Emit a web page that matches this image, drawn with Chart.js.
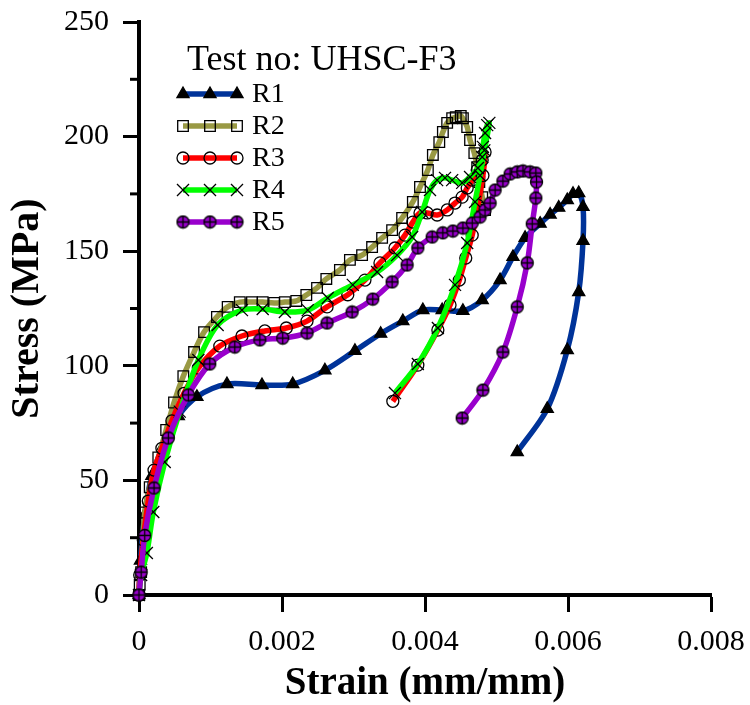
<!DOCTYPE html>
<html>
<head>
<meta charset="utf-8">
<script src="https://cdn.jsdelivr.net/npm/chart.js@4.4.1/dist/chart.umd.min.js"></script>
<style>
    html, body { margin: 0; padding: 0; background: #fff; }
</style>
</head>
<body>
<canvas id="myChart" width="750" height="705"></canvas>
<script>
// values (strain in mm/mm, stress in MPa)
const seriesNames = ['R1', 'R2', 'R3', 'R4', 'R5'];
const legendTitle = 'Test no: UHSC-F3';
const strainTicks = [0, 0.002, 0.004, 0.006, 0.008];
const stressTicks = [0, 50, 100, 150, 200, 250];

const r1Strain = [0, 0.00002, 0.00008, 0.00018, 0.00034, 0.00055, 0.00081, 0.00123, 0.00172, 0.00215, 0.0026, 0.00302, 0.00338, 0.00369, 0.00397, 0.00424, 0.00453, 0.0048, 0.00505, 0.00523, 0.0054, 0.00561, 0.00575, 0.00587, 0.00599, 0.00607, 0.00615, 0.00621, 0.00621, 0.00615, 0.00599, 0.00571, 0.00529];
const r1Stress = [0, 15, 35, 52, 65, 78, 86.5, 92, 91.6, 92, 98, 106.5, 114, 119.5, 124.3, 124.3, 124, 128.7, 137.4, 147.5, 155.8, 162, 166, 169, 172.3, 175, 175.4, 169.3, 154.5, 132.2, 106.9, 81.2, 62.4];

const r2Strain = [0, 0.00001, 0.00003, 0.00008, 0.00015, 0.00027, 0.00038, 0.00049, 0.00062, 0.00077, 0.00091, 0.00109, 0.00124, 0.00141, 0.00158, 0.00173, 0.00189, 0.00204, 0.0022, 0.00234, 0.00249, 0.00262, 0.00281, 0.00295, 0.00312, 0.00326, 0.0034, 0.00354, 0.00368, 0.00383, 0.00393, 0.00404, 0.00411, 0.0042, 0.00425, 0.00431, 0.00438, 0.00443, 0.0045, 0.00453, 0.00459, 0.00463, 0.00469, 0.00473, 0.00476, 0.0048, 0.00484];
const r2Stress = [0, 4.4, 10, 36, 47, 60, 72, 84, 95.5, 106, 114.7, 121.3, 125.7, 127.8, 127.8, 127.8, 127.4, 127.8, 128.3, 130.9, 134, 137.9, 141.8, 146.2, 148.3, 151.8, 155.8, 159.2, 164.5, 171.5, 178, 185.4, 192, 197.6, 202, 206, 208, 208.5, 209, 208, 204.2, 198.5, 192.8, 186.7, 180.2, 173.6, 168];

const r3Strain = [0, 0.00001, 0.00006, 0.00013, 0.00021, 0.00032, 0.00046, 0.00063, 0.00083, 0.00113, 0.00144, 0.00176, 0.00206, 0.00235, 0.00263, 0.00292, 0.00316, 0.00337, 0.00358, 0.00372, 0.00383, 0.00393, 0.00403, 0.00417, 0.00431, 0.00442, 0.00452, 0.00459, 0.00466, 0.00473, 0.0048, 0.00484, 0.00481, 0.00474, 0.00466, 0.00457, 0.00448, 0.00435, 0.00418, 0.0039, 0.00355];
const r3Stress = [0, 8.7, 24, 41, 54.5, 64, 76, 88, 99, 108.6, 113, 115.2, 116.5, 119.5, 125.7, 131, 137.4, 144.9, 151.4, 157, 162.7, 166.7, 166.7, 165.8, 168, 171, 173.6, 177.6, 181, 185.4, 189.8, 193.3, 183, 170, 157, 147, 137.4, 126.5, 115.6, 100.3, 84.5];

const r4Strain = [0, 0.00003, 0.00011, 0.0002, 0.00036, 0.00057, 0.00083, 0.0011, 0.00144, 0.00173, 0.00204, 0.00236, 0.00264, 0.00299, 0.00333, 0.00361, 0.00382, 0.00396, 0.00407, 0.00417, 0.00428, 0.00438, 0.00452, 0.00463, 0.00474, 0.0048, 0.00481, 0.00484, 0.00487, 0.0049, 0.00483, 0.00477, 0.0047, 0.00459, 0.00442, 0.00418, 0.0039, 0.00358];
const r4Stress = [0, 8.7, 18.3, 36.2, 58, 80, 102.5, 117.8, 124.3, 124.8, 123.5, 124.3, 129.6, 135.3, 140.9, 148.3, 156.2, 167.1, 176.7, 181, 182, 181, 179.8, 182.4, 186.3, 191.1, 195.5, 201.6, 205, 206, 194, 183, 171.5, 153.6, 135.3, 116.5, 100.8, 88.1];

const r5Strain = [0, 0.00003, 0.00008, 0.00021, 0.00041, 0.00069, 0.00099, 0.00134, 0.00169, 0.00201, 0.00235, 0.00263, 0.00298, 0.00327, 0.00354, 0.00375, 0.0039, 0.0041, 0.00425, 0.00439, 0.00453, 0.00466, 0.00477, 0.00484, 0.00491, 0.00498, 0.00509, 0.00519, 0.00529, 0.00537, 0.00547, 0.00555, 0.00556, 0.00555, 0.0055, 0.00543, 0.00529, 0.00509, 0.00481, 0.00452];
const r5Stress = [0, 10, 26, 46.7, 68.5, 87.3, 100.8, 108.2, 111.3, 112.1, 114.3, 118.7, 123.5, 129.1, 136.6, 144, 151.4, 156.2, 158, 158.8, 160.1, 162.3, 164.9, 168, 171, 176.7, 180.6, 183.7, 184.6, 185, 184.6, 184.1, 180.2, 173.2, 161.9, 144.9, 125.7, 106, 89.4, 77.2];

const SERIF = '"Liberation Serif", "Times New Roman", serif';

function toPoints(xs, ys) {
    return xs.map((x, i) => ({ x: x, y: ys[i] }));
}

// circle with a plus inside, for R5
function circlePlus(fill) {
    const c = document.createElement('canvas');
    c.width = 15;
    c.height = 15;
    const g = c.getContext('2d');
    g.beginPath();
    g.arc(7.5, 7.5, 6, 0, Math.PI * 2);
    g.fillStyle = fill;
    g.fill();
    g.lineWidth = 1.3;
    g.strokeStyle = '#000';
    g.stroke();
    g.beginPath();
    g.moveTo(1.5, 7.5); g.lineTo(13.5, 7.5);
    g.moveTo(7.5, 1.5); g.lineTo(7.5, 13.5);
    g.stroke();
    return c;
}

function makeSet(name, xs, ys, color, style, radius, fill, order) {
    return {
        label: name,
        data: toPoints(xs, ys),
        showLine: true,
        borderColor: color,
        borderWidth: 5.5,
        tension: 0.3,
        pointStyle: style,
        pointRadius: radius,
        pointHoverRadius: radius,
        pointBackgroundColor: fill,
        pointBorderColor: '#000',
        pointBorderWidth: 1.3,
        clip: false,
        order: order,
    };
}

const datasets = [
    makeSet(seriesNames[0], r1Strain, r1Stress, '#003399', 'triangle', 7, '#000', 5),
    makeSet(seriesNames[1], r2Strain, r2Stress, '#999944', 'rect', 7.5, 'rgba(0,0,0,0)', 4),
    makeSet(seriesNames[2], r3Strain, r3Stress, '#ff0000', 'circle', 6, 'rgba(0,0,0,0)', 3),
    makeSet(seriesNames[3], r4Strain, r4Stress, '#00ff00', 'crossRot', 8.5, 'rgba(0,0,0,0)', 2),
    makeSet(seriesNames[4], r5Strain, r5Stress, '#9900cc', circlePlus('#9900cc'), 7, '#9900cc', 1),
];

// short unlabelled ticks half way between the stress labels
const minorTicks = {
    id: 'minorTicks',
    afterDraw(chart) {
        const y = chart.scales.y;
        const ctx = chart.ctx;
        ctx.save();
        ctx.strokeStyle = '#000';
        ctx.lineWidth = 3;
        for (let i = 0; i < stressTicks.length - 1; i++) {
            const v = (stressTicks[i] + stressTicks[i + 1]) / 2;
            const py = y.getPixelForValue(v);
            ctx.beginPath();
            ctx.moveTo(y.right - 9, py);
            ctx.lineTo(y.right, py);
            ctx.stroke();
        }
        ctx.restore();
    }
};

// legend drawn inside the plot, with three markers on each sample line
const insideLegend = {
    id: 'insideLegend',
    afterDatasetsDraw(chart) {
        const ctx = chart.ctx;
        ctx.save();
        ctx.fillStyle = '#000';
        ctx.font = '36px ' + SERIF;
        ctx.textBaseline = 'middle';
        ctx.textAlign = 'left';
        ctx.fillText(legendTitle, 187, 61);
        chart.data.datasets.forEach((ds, i) => {
            const y = 94 + i * 32;
            ctx.strokeStyle = ds.borderColor;
            ctx.lineWidth = ds.borderWidth;
            ctx.beginPath();
            ctx.moveTo(183, y);
            ctx.lineTo(237, y);
            ctx.stroke();
            [183, 210, 237].forEach((x) => {
                ctx.fillStyle = ds.pointBackgroundColor;
                ctx.strokeStyle = '#000';
                ctx.lineWidth = ds.pointBorderWidth;
                if (Chart.helpers && Chart.helpers.drawPoint) {
                    Chart.helpers.drawPoint(ctx, {
                        pointStyle: ds.pointStyle,
                        radius: ds.pointRadius,
                        borderWidth: ds.pointBorderWidth,
                        rotation: 0,
                    }, x, y);
                }
            });
            ctx.fillStyle = '#000';
            ctx.font = '28px ' + SERIF;
            ctx.fillText(ds.label, 252, y + 1);
        });
        ctx.restore();
    }
};

const ctx = document.getElementById('myChart').getContext('2d');

const myChart = new Chart(ctx, {
    type: 'scatter',
    data: { datasets },
    options: {
        responsive: false,
        animation: false,
        devicePixelRatio: 1,
        layout: { padding: { top: 22, right: 39, bottom: 0, left: 0 } },
        plugins: {
            legend: { display: false },
            tooltip: { enabled: false },
        },
        scales: {
            x: {
                type: 'linear',
                min: strainTicks[0],
                max: strainTicks[strainTicks.length - 1],
                afterBuildTicks: (s) => { s.ticks = strainTicks.map((v) => ({ value: v })); },
                afterFit: (s) => {
                    s.height = 110;
                    s.paddingLeft = 0;
                    s.paddingRight = 0;
                },
                border: { display: true, color: '#000', width: 4 },
                grid: { drawOnChartArea: false, drawTicks: true, tickLength: 17, tickWidth: 3, tickColor: '#000' },
                ticks: {
                    color: '#000',
                    padding: 12,
                    maxRotation: 0,
                    font: { family: SERIF, size: 30 },
                    callback: (v) => String(Number(v.toFixed(3))),
                },
                title: {
                    display: true,
                    text: 'Strain (mm/mm)',
                    color: '#000',
                    font: { family: SERIF, size: 39, weight: 'bold', lineHeight: 1 },
                    padding: { top: 0, bottom: 2 },
                },
            },
            y: {
                type: 'linear',
                min: stressTicks[0],
                max: stressTicks[stressTicks.length - 1],
                afterBuildTicks: (s) => { s.ticks = stressTicks.map((v) => ({ value: v })); },
                afterFit: (s) => {
                    s.width = 139;
                    s.paddingTop = 0;
                    s.paddingBottom = 0;
                },
                border: { display: true, color: '#000', width: 4 },
                grid: { drawOnChartArea: false, drawTicks: true, tickLength: 16, tickWidth: 3, tickColor: '#000' },
                ticks: {
                    color: '#000',
                    padding: 14,
                    font: { family: SERIF, size: 30 },
                },
                title: {
                    display: true,
                    text: 'Stress (MPa)',
                    color: '#000',
                    font: { family: SERIF, size: 40, weight: 'bold', lineHeight: 1 },
                    padding: { top: 8, bottom: 0 },
                },
            },
        },
    },
    plugins: [minorTicks, insideLegend],
});
</script>
</body>
</html>
